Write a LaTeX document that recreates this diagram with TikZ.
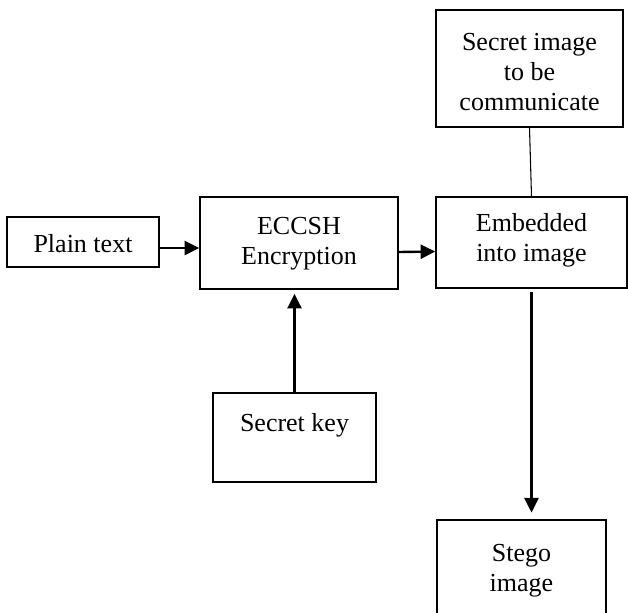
\documentclass[tikz,border=0pt]{standalone}
\usepackage{fontspec}
\setmainfont{Liberation Serif}
\usetikzlibrary{arrows.meta}
\newcommand{\lift}[2][0pt]{\raisebox{#1}[\height][\depth]{\begin{tabular}{@{}c@{}}#2\end{tabular}}}
\tikzset{
	boxnode/.style={
			draw=black,
			line width=1.1pt,
			fill=white,
			inner sep=0pt,
			font=\fontsize{19.5}{22.5}\selectfont
		},
	arrowline/.style={
			line width=1.8pt,
			-{Triangle[length=11pt,width=10.5pt]}
		},
	plainline/.style={
			line width=0.8pt
		}
}

\begin{document}
\begin{tikzpicture}[x=0.75pt, y=-0.75pt]
\useasboundingbox (0,0) rectangle (628,612);

\node[boxnode, minimum width=114pt, minimum height=37.5pt] (bPlain) at (83,242) {\lift[-3pt]{Plain text}};
\node[boxnode, minimum width=148.5pt, minimum height=69pt] (bEnc) at (299,243) {\lift[-0.5pt]{ECCSH\\Encryption}};
\node[boxnode, minimum width=143.25pt, minimum height=68.25pt] (bEmbed) at (531.5,242.5) {\lift[1.5pt]{Embedded\\into image}};
\node[boxnode, minimum width=140.25pt, minimum height=87.75pt] (bSecret) at (529.5,68.5) {\lift[-4.5pt]{Secret image\\to be\\communicate}};
\node[boxnode, minimum width=122.25pt, minimum height=66.75pt] (bKey) at (294.5,437.5) {\lift[9pt]{Secret key}};
\node[boxnode, minimum width=126.75pt, minimum height=82.5pt] (bStego) at (521.5,575) {\lift[3.75pt]{Stego\\image}};

\draw[arrowline] ([yshift=-4.5pt]bPlain.east) -- ([yshift=-3.75pt]bEnc.west);
\draw[arrowline] ([yshift=-6.75pt]bEnc.east) -- ([yshift=-6.75pt]bEmbed.west);
\draw[arrowline, shorten >=3pt] (bKey.north) -- (bKey.north |- bEnc.south);
\draw[plainline] (bSecret.south) -- (bEmbed.north);
\draw[arrowline, shorten <=2.25pt, shorten >=5pt] (bEmbed.south) -- (bEmbed.south |- bStego.north);
\end{tikzpicture}
\end{document}
